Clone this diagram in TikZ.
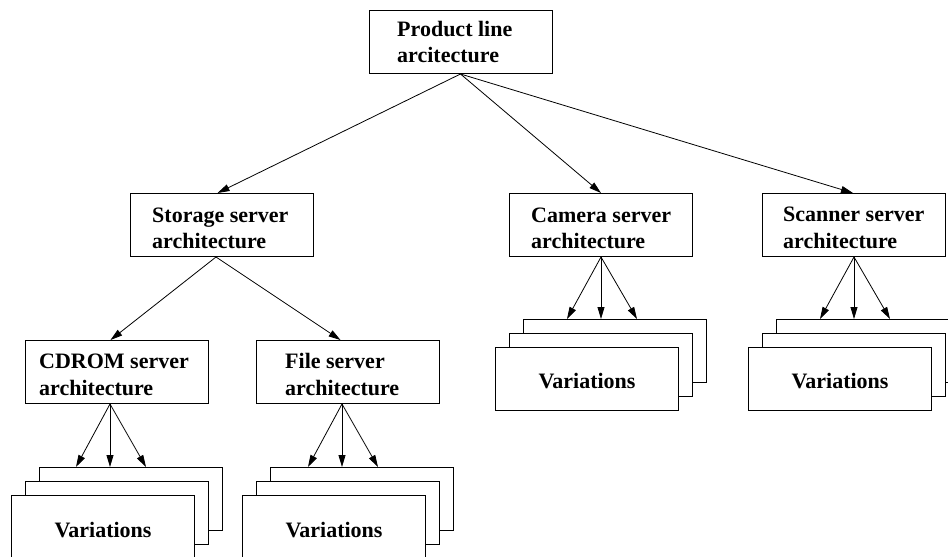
\documentclass[tikz,border=0pt]{standalone}
\usepackage{fontspec}
\setmainfont{Liberation Serif}
\usetikzlibrary{arrows.meta,calc}
\begin{document}
\begin{tikzpicture}[x=1pt,y=-1pt,
  box/.style={draw, line width=1pt, fill=white, minimum width=183pt, minimum height=63pt, inner sep=0pt, anchor=north west},
  txt/.style={anchor=base west, inner sep=0pt, font=\fontsize{22}{26}\selectfont\bfseries},
  vtxt/.style={anchor=base, inner sep=0pt, font=\fontsize{22}{26}\selectfont\bfseries},
  link/.style={line width=0.8pt, -{Triangle[length=12pt,width=7pt]}}
]
\clip (0,0) rectangle (948,557);
\fill[white] (0,0) rectangle (948,557);

% main boxes
\node[box] (top) at (369,10) {};
\node[box] (storage) at (130,193) {};
\node[box] (camera) at (509,193) {};
\node[box] (scanner) at (762,193) {};
\node[box] (cdrom) at (25,340) {};
\node[box] (file) at (256,340) {};

% texts
\node[txt] (topA) at (397,36) {Product line};
\node[txt] (topB) at (397,62) {arcitecture};
\node[txt] (storageA) at (152,222) {Storage server};
\node[txt] (storageB) at (152,248) {architecture};
\node[txt] (cameraA) at (531,222) {Camera server};
\node[txt] (cameraB) at (531,248) {architecture};
\node[txt] (scannerA) at (783,221) {Scanner server};
\node[txt] (scannerB) at (783,248) {architecture};
\node[txt] (cdromA) at (39,368) {CDROM server};
\node[txt] (cdromB) at (39,395) {architecture};
\node[txt] (fileA) at (285,368) {File server};
\node[txt] (fileB) at (285,395) {architecture};

% stacks: back, middle, front
\node[box] (cdBk) at (39,467) {};
\node[box] (cdMd) at (25,481) {};
\node[box] (cdFr) at (11,495) {};
\node[vtxt] (cdV) at ($(cdFr.north)+(0,42)$) {Variations};

\node[box] (fiBk) at (270,467) {};
\node[box] (fiMd) at (256,481) {};
\node[box] (fiFr) at (242,495) {};
\node[vtxt] (fiV) at ($(fiFr.north)+(0,42)$) {Variations};

\node[box] (caBk) at (523,319) {};
\node[box] (caMd) at (509,333) {};
\node[box] (caFr) at (495,347) {};
\node[vtxt] (caV) at ($(caFr.north)+(0,41)$) {Variations};

\node[box] (scBk) at (776,319) {};
\node[box] (scMd) at (762,333) {};
\node[box] (scFr) at (748,347) {};
\node[vtxt] (scV) at ($(scFr.north)+(0,41)$) {Variations};

% connector end points
\coordinate (topS) at ($(top.south)+(-0.5,0)$);
\coordinate (stN) at ($(storage.north)+(-4.5,0)$);
\coordinate (caN) at (camera.north);
\coordinate (scN) at ($(scanner.north)+(-1,0)$);
\coordinate (stS) at ($(storage.south)+(-6,0)$);
\coordinate (cdN) at ($(cdrom.north)+(-6.5,0)$);
\coordinate (fiN) at ($(file.north)+(-7.5,0)$);

\coordinate (cdS) at ($(cdrom.south)+(-7,0)$);
\coordinate (fiS) at ($(file.south)+(-6,0)$);
\coordinate (caS) at (camera.south);
\coordinate (scS) at (scanner.south);

\draw[link] (topS) -- (stN);
\draw[link] (topS) -- (caN);
\draw[link] (topS) -- (scN);
\draw[link] (stS) -- (cdN);
\draw[link] (stS) -- (fiN);

\foreach \s/\b in {cdS/cdBk, fiS/fiBk, caS/caBk, scS/scBk}{
  \draw[link] (\s) -- ($(\s |- \b.north)+(-34,0)$);
  \draw[link] (\s) -- (\s |- \b.north);
  \draw[link] (\s) -- ($(\s |- \b.north)+(36,0)$);
}
\end{tikzpicture}
\end{document}
